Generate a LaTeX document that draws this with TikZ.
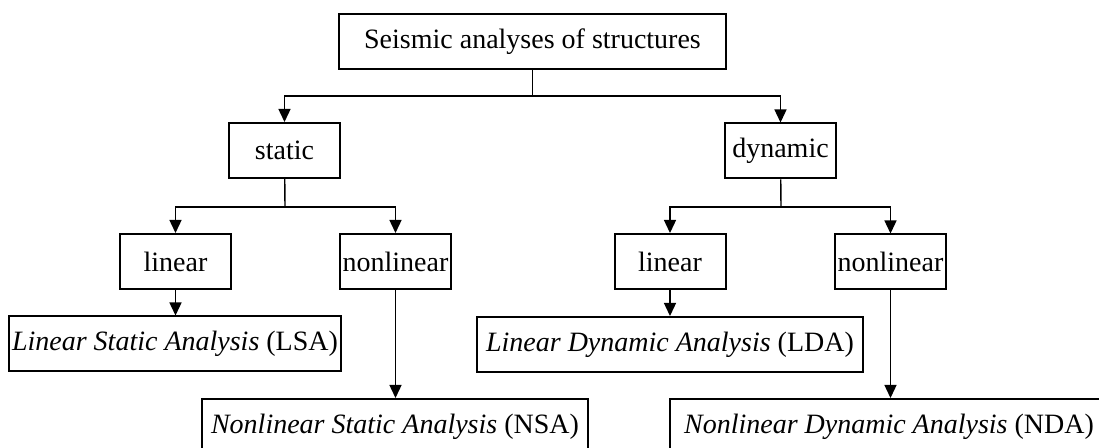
\documentclass[tikz,border=0pt]{standalone}
\usepackage{fontspec}
\setmainfont{Liberation Serif}
\usetikzlibrary{arrows.meta}

\begin{document}
\begin{tikzpicture}[x=0.5pt,y=-0.5pt,
    box/.style={draw, line width=1pt, inner sep=0pt, minimum height=27.5pt, font=\fontsize{14}{16}\selectfont},
    small/.style={box, minimum width=55.5pt},
    arr/.style={line width=0.7pt, -{Triangle[width=6pt,length=6.5pt]}},
    ln/.style={line width=0.7pt}]
            \useasboundingbox (0,0) rectangle (1099,448);
            \node[box, minimum width=193.5pt] (seismic) at (532.5,41.5) {Seismic analyses of structures};
            \node[small] (static) at (284.5,150.5) {static};
            \node[small] (dynamic) at (780.5,151) {dynamic};
            \node[small] (slin) at (175.5,261.5) {linear};
            \node[small] (snonlin) at (395.5,261.5) {nonlinear};
            \node[small] (dlin) at (670,261.5) {linear};
            \node[small] (dnonlin) at (890.5,262) {nonlinear};
            \node[box, minimum width=166pt] (lsa) at (175,344) {\textit{Linear Static Analysis} (LSA)};
            \node[box, minimum width=193pt] (lda) at (670,344.5) {\textit{Linear Dynamic Analysis} (LDA)};
            \node[box, minimum width=193pt] (nsa) at (395,426.5) {\textit{Nonlinear Static Analysis} (NSA)};
            \node[box, minimum width=219pt] (nda) at (889,426.5) {\textit{Nonlinear Dynamic Analysis} (NDA)};
            \coordinate (top) at (532.5,96);
            \coordinate (sj) at (285,207);
            \coordinate (dj) at (781,207);
            \draw[ln] (seismic) -- (top);
            \draw[arr] (top) -| (static);
            \draw[arr] (top) -| (dynamic);
            \draw[ln] (static) -- (sj);
            \draw[arr] (sj) -| (slin);
            \draw[arr] (sj) -| (snonlin);
            \draw[ln] (dynamic) -- (dj);
            \draw[arr] (dj) -| (dlin);
            \draw[arr] (dj) -| (dnonlin);
            \draw[arr] (slin) -- (slin |- lsa.north);
            \draw[arr] (snonlin) -- (snonlin |- nsa.north);
            \draw[arr] (dlin) -- (dlin |- lda.north);
            \draw[arr] (dnonlin) -- (dnonlin |- nda.north);
        \end{tikzpicture}
\end{document}
